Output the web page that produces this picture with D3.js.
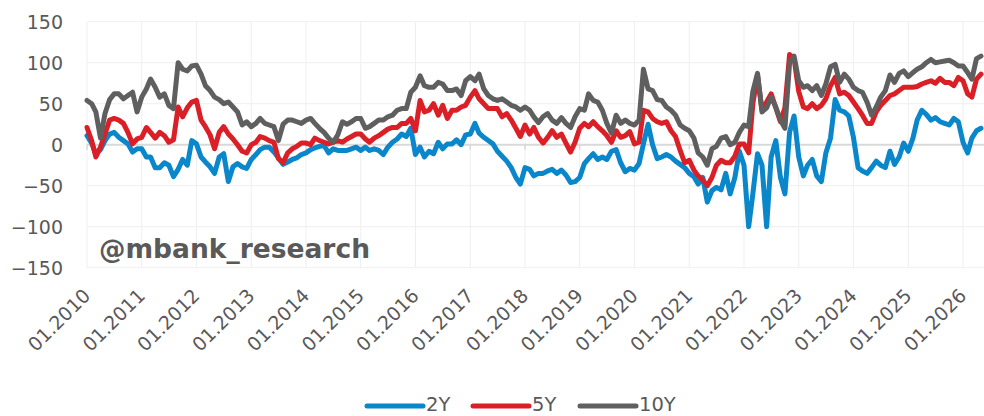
<!DOCTYPE html>
<html><head><meta charset="utf-8">
<script src="https://cdn.jsdelivr.net/npm/d3@7"></script>
<style>
html,body{margin:0;padding:0;background:#fff;}
svg{display:block;}
text{font-family:"DejaVu Sans",sans-serif;fill:#595959;}
</style></head>
<body>
<svg id="chart" width="984" height="416"></svg>
<script>
// ---- data (monthly, Jan 2010 .. May 2026) ----
const startMonth = "2010-01";
const endMonth = "2026-05";
const seriesNames = ["2Y", "5Y", "10Y"];
const yTicks = [-150, -100, -50, 0, 50, 100, 150];
const watermark = "@mbank_research";

const y2 = [
  11, 2, -11, -6, 5, 13, 15, 9, 5, 1, -9, -5,
  -5, -15, -15, -28, -28, -22, -25, -39, -30, -18, -25, 5,
  1, -15, -21, -27, -35, -15, -11, -45, -27, -23, -27, -29,
  -18, -12, -6, -3, -3, -9, -16, -24, -21, -18, -16, -12,
  -10, -6, -4, -2, -1, -10, -5, -7, -7, -7, -5, -3,
  -7, -3, -7, -5, -7, -12, -3, 3, 7, 13, 10, 20,
  -12, -3, -15, -8, -11, 3, -5, 1, 1, 6, 0, 12,
  13, 26, 14, 9, 5, 1, -8, -14, -20, -28, -40, -48,
  -28, -30, -38, -35, -35, -32, -30, -35, -31, -37, -46, -45,
  -40, -23, -17, -11, -18, -15, -18, -8, -6, -22, -33, -29,
  -31, -23, 1, 25, 0, -17, -15, -12, -15, -20, -24, -28,
  -35, -39, -48, -40, -70, -56, -52, -55, -35, -60, -40, -8,
  -25, -100, -60, -11, -25, -100, -15, 5, -40, -60, 15, 35,
  -15, -38, -25, -18, -38, -45, -10, 8, 55, 42, 40, 35,
  9, -28, -32, -35, -28, -20, -25, -28, -8, -24, -15, 2,
  -8, 8, 30, 42, 37, 30, 33, 28, 26, 24, 32, 28,
  3, -10, 8, 17, 20
];
const y5 = [
  21, 5, -15, -3, 13, 30, 32, 30, 26, 15, 1, 7,
  9, 21, 15, 8, 15, 11, 3, 6, 46, 34, 45, 52,
  54, 30, 22, 12, -5, 15, 22, 13, 7, 0, -8, -10,
  0, 3, 10, 8, 5, 3, -17, -22, -10, -5, -2, 2,
  2, 0, 8, 5, 3, 1, 3, 5, 3, 7, 10, 13,
  13, 7, 3, 8, 11, 15, 19, 21, 21, 26, 26, 32,
  17, 54, 40, 42, 50, 36, 48, 32, 42, 42, 46, 48,
  58, 66, 56, 50, 44, 44, 44, 34, 38, 30, 20, 10,
  24, 13, 21, 9, 2, 9, 17, 9, 13, 2, -9, 3,
  20, 26, 22, 28, 22, 17, 11, 3, 17, 9, 11, 16,
  1, 3, 42, 40, 32, 28, 26, 28, 17, 10, -7, -22,
  -19, -31, -38, -43, -50, -40, -25, -19, -22, -22, -14, 1,
  1, -10, 50, 85, 42, 52, 62, 45, 28, 45, 110, 105,
  65, 46, 44, 50, 44, 48, 56, 72, 82, 62, 64, 60,
  52, 44, 36, 26, 26, 40, 48, 54, 60, 62, 66, 70,
  70, 70, 71, 74, 76, 78, 75, 81, 76, 76, 72, 82,
  78, 62, 58, 80, 86
];
const y10 = [
  54, 50, 40, 8, 38, 55, 62, 62, 56, 60, 64, 40,
  58, 68, 80, 70, 58, 62, 48, 44, 100, 92, 90, 96,
  97, 86, 72, 66, 58, 55, 50, 52, 46, 40, 24, 28,
  22, 26, 32, 26, 24, 22, 5, 25, 30, 30, 28, 26,
  30, 32, 26, 20, 15, 8, 3, 12, 28, 25, 28, 32,
  32, 20, 22, 26, 30, 30, 34, 36, 42, 44, 44, 64,
  70, 84, 72, 70, 70, 76, 74, 66, 66, 68, 60, 78,
  83, 78, 86, 68, 60, 56, 54, 56, 52, 48, 46, 42,
  46, 42, 34, 27, 34, 38, 30, 26, 33, 26, 21, 34,
  44, 42, 62, 54, 52, 42, 26, 14, 36, 26, 30, 26,
  24, 30, 92, 68, 66, 55, 54, 46, 42, 36, 24, 20,
  17, 8, -10, -15, -25, -5, -2, 8, 10, 0, 3, 15,
  24, 22, 65, 87, 40, 45, 58, 46, 30, 20, 100, 108,
  78, 70, 72, 66, 72, 60, 74, 95, 98, 76, 86, 80,
  70, 66, 64, 52, 36, 46, 58, 66, 85, 76, 87, 90,
  83, 88, 92, 95, 100, 104, 100, 101, 102, 103, 100, 96,
  96, 88, 80, 105, 108
];
const colors = ["#0a86ca", "#da1f26", "#5f5f5f"];

// ---- chart ----
const svg = d3.select("#chart");
const parseM = d3.timeParse("%Y-%m");
const t0 = parseM(startMonth), t1 = parseM(endMonth);
const months = d3.timeMonth.range(t0, d3.timeMonth.offset(t1, 1));

const x = d3.scaleTime().domain([t0, t1]).range([87, 981]);
const y = d3.scaleLinear().domain([-150, 150]).range([267.7, 21.7]);

// horizontal grid
svg.append("g").selectAll("line").data(yTicks.filter(v => v !== 0)).join("line")
  .attr("x1", 87).attr("x2", 984)
  .attr("y1", d => y(d)).attr("y2", d => y(d))
  .attr("stroke", "#efefef").attr("stroke-width", 1);

// vertical grid
const years = d3.timeYear.range(t0, t1);
svg.append("g").selectAll("line").data(years).join("line")
  .attr("x1", d => x(d)).attr("x2", d => x(d))
  .attr("y1", y(150)).attr("y2", y(-150))
  .attr("stroke", "#efefef").attr("stroke-width", 1);

// zero line + ticks
svg.append("line").attr("x1", 87).attr("x2", 984)
  .attr("y1", y(0)).attr("y2", y(0))
  .attr("stroke", "#d9d9d9").attr("stroke-width", 2);
svg.append("g").selectAll("line").data(years).join("line")
  .attr("x1", d => x(d)).attr("x2", d => x(d))
  .attr("y1", y(0)).attr("y2", y(0) + 5)
  .attr("stroke", "#d9d9d9").attr("stroke-width", 1.5);

// y axis labels
const yAxis = d3.axisLeft(y).tickValues(yTicks).tickSize(0).tickPadding(0);
const gy = svg.append("g").attr("transform", "translate(63,0)").call(yAxis);
gy.select(".domain").remove();
gy.selectAll("text").attr("font-size", 19).attr("font-family", "DejaVu Sans")
  .attr("fill", "#595959").attr("dy", "0.36em");

// x axis labels
const xAxis = d3.axisBottom(x).tickValues(years).tickFormat(d3.timeFormat("%m.%Y")).tickSize(0);
const gx = svg.append("g").call(xAxis);
gx.select(".domain").remove();
gx.selectAll("text")
  .attr("y", 0).attr("dy", 0).attr("x", 0)
  .attr("text-anchor", "end")
  .attr("transform", "translate(4,297) rotate(-45)")
  .attr("font-size", 19).attr("font-family", "DejaVu Sans").attr("fill", "#595959");

// watermark
svg.append("text").attr("x", 99).attr("y", 258)
  .attr("font-size", 26.5).attr("font-weight", "bold")
  .attr("fill", "#595959").text(watermark);

// lines
const allSeries = [y2, y5, y10];
const line = d3.line().x((d, i) => x(months[i])).y(d => y(d));
svg.append("g").selectAll("path").data(allSeries).join("path")
  .attr("d", d => line(d))
  .attr("fill", "none")
  .attr("stroke", (d, i) => colors[i])
  .attr("stroke-width", 5)
  .attr("stroke-linejoin", "round")
  .attr("stroke-linecap", "round");

// legend
const legendX = [367, 473, 580];
const lg = svg.append("g").selectAll("g").data(seriesNames).join("g")
  .attr("transform", (d, i) => `translate(${legendX[i]},406)`);
lg.append("line").attr("x1", 0).attr("x2", 56).attr("y1", 0).attr("y2", 0)
  .attr("stroke", (d, i) => colors[i]).attr("stroke-width", 5).attr("stroke-linecap", "round");
lg.append("text").attr("x", 59).attr("y", 5).attr("font-size", 19.5)
  .attr("fill", "#595959").text(d => d);
</script>
</body></html>
